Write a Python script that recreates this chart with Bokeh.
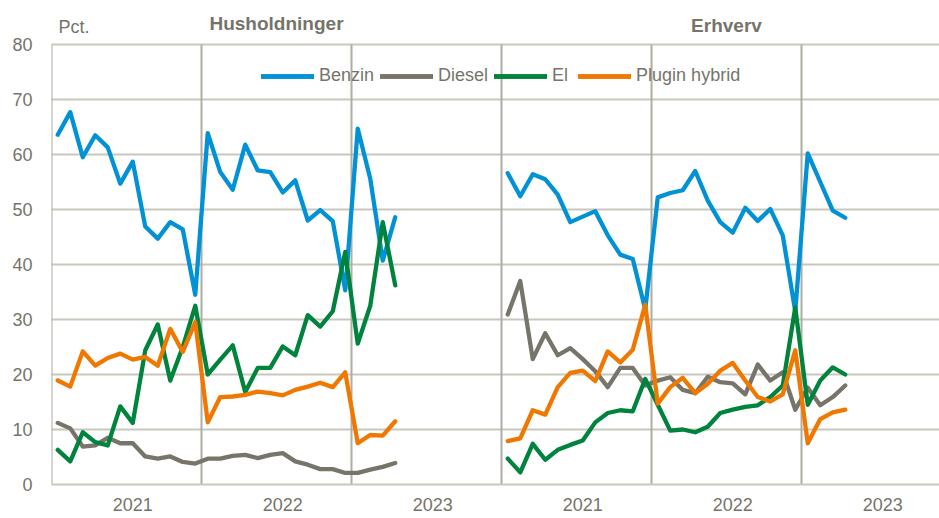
from bokeh.plotting import figure
from bokeh.models import Range1d, FixedTicker, Label, Legend, LegendItem
from bokeh.embed import file_html
from bokeh.resources import INLINE

# ---------------- data ----------------
panels = ["Husholdninger", "Erhverv"]
series = ["Benzin", "Diesel", "El", "Plugin hybrid"]
colors = ["#0092d5", "#77756a", "#00843d", "#f07800"]
year_labels = ["2021", "2022", "2023"]
months = list(range(28))  # Jan 2021 .. Apr 2023

hh_benzin = [63.6, 67.7, 59.5, 63.5, 61.3, 54.7, 58.7, 46.9, 44.7, 47.7, 46.4, 34.5,
             63.9, 56.8, 53.6, 61.8, 57.1, 56.8, 53.1, 55.3, 48.0, 49.9, 47.9, 35.3,
             64.7, 55.6, 40.7, 48.6]
hh_diesel = [11.2, 10.2, 6.9, 7.1, 8.5, 7.5, 7.5, 5.1, 4.7, 5.1, 4.1, 3.8,
             4.7, 4.7, 5.2, 5.4, 4.8, 5.4, 5.7, 4.2, 3.6, 2.8, 2.8, 2.1,
             2.1, 2.7, 3.2, 3.9]
hh_el = [6.3, 4.2, 9.5, 7.7, 7.1, 14.2, 11.2, 24.4, 29.1, 18.9, 25.0, 32.5,
         20.0, 22.7, 25.3, 16.8, 21.2, 21.2, 25.1, 23.5, 30.8, 28.7, 31.5, 42.3,
         25.6, 32.5, 47.7, 36.2]
hh_plugin = [18.9, 17.8, 24.2, 21.6, 23.0, 23.8, 22.7, 23.2, 21.6, 28.3, 24.1, 29.5,
             11.3, 15.9, 16.0, 16.3, 16.9, 16.6, 16.2, 17.2, 17.8, 18.5, 17.7, 20.4,
             7.5, 9.0, 8.9, 11.5]

er_benzin = [56.6, 52.4, 56.4, 55.5, 52.7, 47.7, 48.7, 49.7, 45.3, 41.8, 41.0, 31.8,
             52.2, 53.0, 53.5, 57.0, 51.6, 47.7, 45.8, 50.3, 47.9, 50.1, 45.3, 31.5,
             60.2, 55.0, 49.8, 48.5]
er_diesel = [30.9, 37.0, 22.8, 27.5, 23.5, 24.8, 22.8, 20.6, 17.7, 21.2, 21.2, 18.0,
             18.9, 19.5, 17.2, 16.6, 19.6, 18.6, 18.4, 16.4, 21.8, 18.9, 20.4, 13.6,
             17.6, 14.4, 15.9, 18.0]
er_el = [4.7, 2.2, 7.4, 4.5, 6.3, 7.2, 8.0, 11.3, 13.0, 13.5, 13.3, 19.2,
         14.5, 9.8, 10.0, 9.5, 10.5, 13.0, 13.6, 14.1, 14.4, 15.9, 18.0, 32.2,
         14.5, 18.9, 21.3, 20.0]
er_plugin = [7.9, 8.4, 13.5, 12.7, 17.7, 20.3, 20.7, 18.8, 24.2, 22.2, 24.5, 32.7,
             14.7, 17.7, 19.4, 16.6, 18.3, 20.7, 22.1, 18.9, 15.9, 15.1, 16.4, 24.4,
             7.5, 11.9, 13.1, 13.6]

hh = [hh_benzin, hh_diesel, hh_el, hh_plugin]
er = [er_benzin, er_diesel, er_el, er_plugin]

y_ticks = list(range(0, 90, 10))
boundaries = [0, 12, 24, 36, 48, 60]   # axis, year and panel separators (months)

# ---------------- styling ----------------
FONT = "Liberation Sans Narrow, Arial Narrow, Liberation Sans"
TXT = "#76746a"
GRID = "#c9c7bd"
VLINE = "#afaca1"

p = figure(width=939, height=518, output_backend="svg", toolbar_location=None,
           x_range=Range1d(0, 71.04), y_range=Range1d(0, 88),
           min_border_left=51, min_border_top=0, min_border_right=0, min_border_bottom=34)
p.outline_line_color = None
p.background_fill_color = "white"

# grid
p.xgrid.visible = False
p.ygrid.ticker = FixedTicker(ticks=y_ticks)
p.ygrid.grid_line_color = GRID
p.ygrid.grid_line_width = 2

# y axis
p.yaxis.ticker = FixedTicker(ticks=y_ticks)
p.yaxis.axis_line_color = None
p.yaxis.major_tick_line_color = None
p.yaxis.minor_tick_line_color = None
p.yaxis.major_tick_out = 0
p.yaxis.major_tick_in = 0
p.yaxis.minor_tick_out = 0
p.yaxis.minor_tick_in = 0
p.yaxis.major_label_text_font = FONT
p.yaxis.major_label_text_font_size = "18px"
p.yaxis.major_label_text_color = TXT
p.yaxis.major_label_standoff = 19

# x axis: year labels at mid-year of each panel
tick_pos = []
overrides = {}
for k in range(2):
    for j, y in enumerate(year_labels):
        t = 36 * k + 12 * j + 6.5
        tick_pos.append(t)
        overrides[t] = y
p.xaxis.ticker = FixedTicker(ticks=tick_pos)
p.xaxis.major_label_overrides = overrides
p.xaxis.axis_line_color = GRID
p.xaxis.axis_line_width = 2
p.xaxis.major_tick_line_color = None
p.xaxis.minor_tick_line_color = None
p.xaxis.major_tick_out = 0
p.xaxis.major_tick_in = 0
p.xaxis.minor_tick_out = 0
p.xaxis.minor_tick_in = 0
p.xaxis.major_label_text_font = FONT
p.xaxis.major_label_text_font_size = "18px"
p.xaxis.major_label_text_color = TXT
p.xaxis.major_label_standoff = 13

# vertical axis / year / panel separators, from 0 to 80
p.segment(x0=boundaries, y0=[0] * len(boundaries), x1=boundaries, y1=[80] * len(boundaries),
          line_color=VLINE, line_width=2)

# lines
items = []
for s, name in enumerate(series):
    r1 = p.line([m + 0.5 for m in months], hh[s], line_color=colors[s], line_width=4.3,
                line_join="round", line_cap="round")
    r2 = p.line([36 + m + 0.5 for m in months], er[s], line_color=colors[s], line_width=4.3,
                line_join="round", line_cap="round")
    items.append(LegendItem(label=name, renderers=[r1, r2]))

legend = Legend(items=items, orientation="horizontal", location=(210, 398),
                glyph_width=53, glyph_height=20, label_height=20, label_standoff=5,
                spacing=6, padding=0, margin=0,
                label_text_font=FONT, label_text_font_size="18px", label_text_color=TXT,
                background_fill_alpha=0, border_line_color=None)
p.add_layout(legend, "center")

# texts (inside the frame, above the 80 line)
p.add_layout(Label(x=0.55, y=83.1, text="Pct.", text_font=FONT,
                   text_font_size="18px", text_color=TXT, text_baseline="middle"))
p.add_layout(Label(x=18, y=83.8, text=panels[0], text_font=FONT,
                   text_font_size="19px", text_font_style="bold", text_color=TXT,
                   text_align="center", text_baseline="middle"))
p.add_layout(Label(x=54, y=83.4, text=panels[1], text_font=FONT,
                   text_font_size="19px", text_font_style="bold", text_color=TXT,
                   text_align="center", text_baseline="middle"))

open("out.html", "w").write(file_html(p, INLINE))
